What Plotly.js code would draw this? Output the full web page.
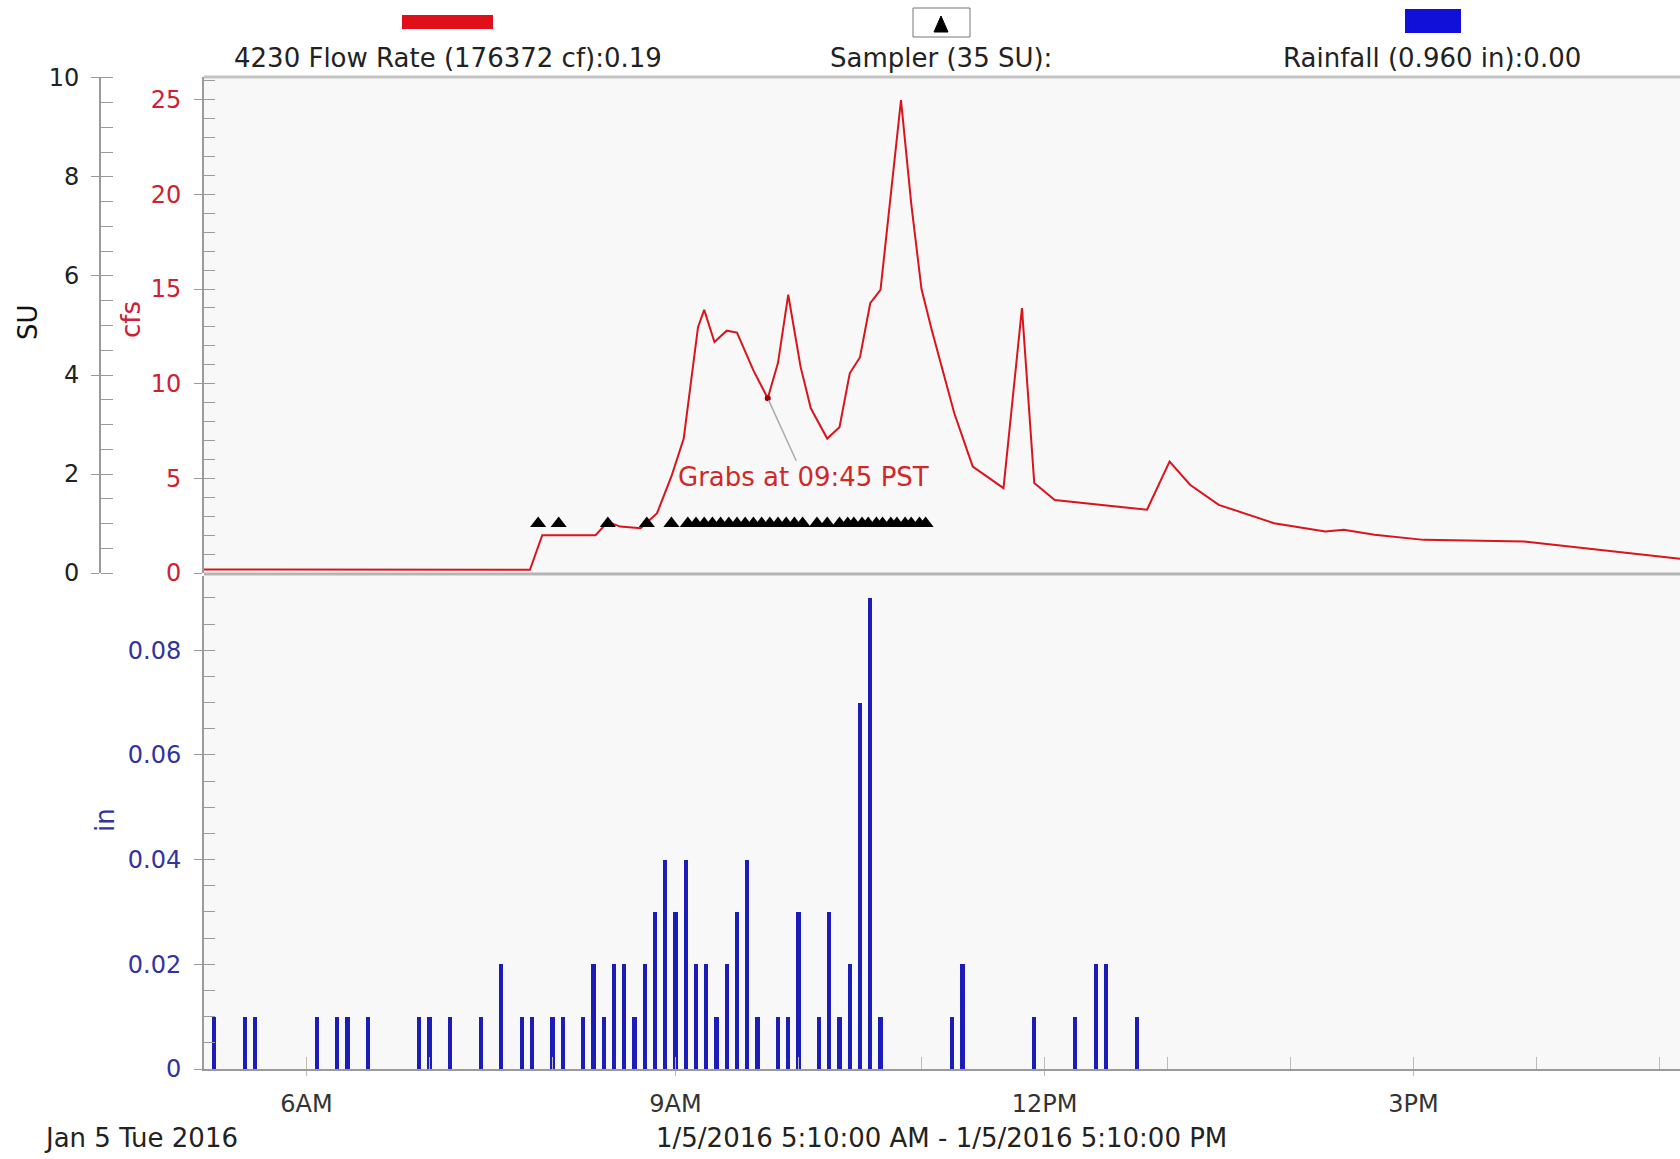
<!DOCTYPE html>
<html>
<head>
<meta charset="utf-8">
<script src="https://cdn.plot.ly/plotly-3.0.1.min.js"></script>
<style>
html,body{margin:0;padding:0;background:#ffffff;}
#chart{width:1680px;height:1159px;}
</style>
</head>
<body>
<div id="chart"></div>
<script>
// ---------------- DATA ----------------
const flowTimes = [
  '2016-01-05 05:10','2016-01-05 06:00','2016-01-05 07:00','2016-01-05 07:49','2016-01-05 07:55',
  '2016-01-05 08:00','2016-01-05 08:21','2016-01-05 08:27','2016-01-05 08:33','2016-01-05 08:43',
  '2016-01-05 08:51','2016-01-05 08:58','2016-01-05 09:04','2016-01-05 09:11','2016-01-05 09:14',
  '2016-01-05 09:19','2016-01-05 09:25','2016-01-05 09:30','2016-01-05 09:38','2016-01-05 09:45',
  '2016-01-05 09:50','2016-01-05 09:55','2016-01-05 10:01','2016-01-05 10:06','2016-01-05 10:14',
  '2016-01-05 10:20','2016-01-05 10:25','2016-01-05 10:30','2016-01-05 10:35','2016-01-05 10:40',
  '2016-01-05 10:50','2016-01-05 10:55','2016-01-05 11:00','2016-01-05 11:05','2016-01-05 11:16',
  '2016-01-05 11:25','2016-01-05 11:40','2016-01-05 11:49','2016-01-05 11:55','2016-01-05 12:05',
  '2016-01-05 12:27','2016-01-05 12:50','2016-01-05 13:01','2016-01-05 13:11','2016-01-05 13:25',
  '2016-01-05 13:52','2016-01-05 14:17','2016-01-05 14:26','2016-01-05 14:41','2016-01-05 15:05',
  '2016-01-05 15:54','2016-01-05 16:31','2016-01-05 17:10'
];
const flowCfs = [
  0.18,0.18,0.17,0.17,2.0,
  2.0,2.0,2.7,2.45,2.37,
  3.16,5.1,7.1,13.0,13.9,
  12.2,12.8,12.7,10.7,9.23,
  11.1,14.7,10.9,8.7,7.1,
  7.7,10.55,11.4,14.25,14.95,
  24.98,19.5,15.0,12.84,8.44,
  5.62,4.48,13.99,4.75,3.86,
  3.6,3.34,5.89,4.66,3.6,
  2.63,2.19,2.28,2.02,1.75,
  1.66,1.22,0.75
];

const samplerTimes = [
  '2016-01-05 07:53','2016-01-05 08:03','2016-01-05 08:27','2016-01-05 08:46','2016-01-05 08:58',
  '2016-01-05 09:06','2016-01-05 09:10','2016-01-05 09:14','2016-01-05 09:18','2016-01-05 09:22',
  '2016-01-05 09:26','2016-01-05 09:30','2016-01-05 09:34','2016-01-05 09:38','2016-01-05 09:42',
  '2016-01-05 09:46','2016-01-05 09:50','2016-01-05 09:54','2016-01-05 09:58','2016-01-05 10:02',
  '2016-01-05 10:09','2016-01-05 10:14',
  '2016-01-05 10:20','2016-01-05 10:24','2016-01-05 10:27','2016-01-05 10:31','2016-01-05 10:34',
  '2016-01-05 10:38','2016-01-05 10:41','2016-01-05 10:45','2016-01-05 10:48','2016-01-05 10:52',
  '2016-01-05 10:55','2016-01-05 10:59','2016-01-05 11:02'
];
const samplerSU = [
  1,1,1,1,1, 1,1,1,1,1, 1,1,1,1,1, 1,1,1,1,1, 1,1, 1,1,1,1,1, 1,1,1,1,1, 1,1,1
];

const rainTimes = [
  '2016-01-05 05:15','2016-01-05 05:30','2016-01-05 05:35','2016-01-05 06:05','2016-01-05 06:15',
  '2016-01-05 06:20','2016-01-05 06:30','2016-01-05 06:55','2016-01-05 07:00','2016-01-05 07:10',
  '2016-01-05 07:25','2016-01-05 07:35','2016-01-05 07:45','2016-01-05 07:50','2016-01-05 08:00',
  '2016-01-05 08:05','2016-01-05 08:15','2016-01-05 08:20','2016-01-05 08:25','2016-01-05 08:30',
  '2016-01-05 08:35','2016-01-05 08:40','2016-01-05 08:45','2016-01-05 08:50','2016-01-05 08:55',
  '2016-01-05 09:00','2016-01-05 09:05','2016-01-05 09:10','2016-01-05 09:15','2016-01-05 09:20',
  '2016-01-05 09:25','2016-01-05 09:30','2016-01-05 09:35','2016-01-05 09:40','2016-01-05 09:50',
  '2016-01-05 09:55','2016-01-05 10:00','2016-01-05 10:10','2016-01-05 10:15','2016-01-05 10:20',
  '2016-01-05 10:25','2016-01-05 10:30','2016-01-05 10:35','2016-01-05 10:40','2016-01-05 11:15',
  '2016-01-05 11:20','2016-01-05 11:55','2016-01-05 12:15','2016-01-05 12:25','2016-01-05 12:30',
  '2016-01-05 12:45'
];
const rainInches = [
  0.01,0.01,0.01,0.01,0.01,
  0.01,0.01,0.01,0.01,0.01,
  0.01,0.02,0.01,0.01,0.01,
  0.01,0.01,0.02,0.01,0.02,
  0.02,0.01,0.02,0.03,0.04,
  0.03,0.04,0.02,0.02,0.01,
  0.02,0.03,0.04,0.01,0.01,
  0.01,0.03,0.01,0.03,0.01,
  0.02,0.07,0.09,0.01,0.01,
  0.02,0.01,0.01,0.02,0.02,
  0.01
];

const grabTime = ['2016-01-05 09:45'];
const grabCfs = [9.23];

const xRange = ['2016-01-05 05:10','2016-01-05 17:10'];
const xTickVals = ['2016-01-05 06:00','2016-01-05 09:00','2016-01-05 12:00','2016-01-05 15:00'];
const xTickText = ['6AM','9AM','12PM','3PM'];

const legendLabels = ['4230 Flow Rate (176372 cf):0.19','Sampler (35 SU):','Rainfall (0.960 in):0.00'];
const axisTitles = {su:'SU', cfs:'cfs', rain:'in'};
const grabLabel = 'Grabs at 09:45 PST';
const dateLabel = 'Jan 5 Tue 2016';
const rangeLabel = '1/5/2016 5:10:00 AM - 1/5/2016 5:10:00 PM';

// ---------------- LAYOUT HELPERS ----------------
const W = 1680, H = 1159;
const px = X => X / W;
const py = Y => 1 - Y / H;
const FONT = 'DejaVu Sans, Liberation Sans, Arial, sans-serif';
const RED = '#d9141c';
const RED_TXT = '#cc2233';
const BLUE = '#1c1cb8';
const BLUE_TXT = '#3333a0';
const AXIS = '#9a9a9a';
const TXT = 26;
const TICK = 24;

const traces = [
  {
    type: 'bar', x: rainTimes, y: rainInches, xaxis: 'x', yaxis: 'y3',
    width: 120000, marker: {color: BLUE, line: {width: 0}}, hoverinfo: 'skip', showlegend: false
  },
  {
    type: 'scatter', mode: 'lines', x: flowTimes, y: flowCfs, xaxis: 'x', yaxis: 'y',
    line: {color: RED, width: 2}, hoverinfo: 'skip', showlegend: false
  },
  {
    type: 'scatter', mode: 'markers', x: grabTime, y: grabCfs, xaxis: 'x', yaxis: 'y',
    marker: {color: '#a00000', size: 6}, hoverinfo: 'skip', showlegend: false
  },
  {
    type: 'scatter', mode: 'markers', x: samplerTimes, y: samplerSU, xaxis: 'x', yaxis: 'y2',
    marker: {symbol: 'triangle-up', size: 14, color: '#000000'}, hoverinfo: 'skip', showlegend: false
  }
];

const topDom = [py(573), py(77)];
const botDom = [py(1069), py(576)];

const layout = {
  width: W, height: H,
  margin: {l: 0, r: 0, t: 0, b: 0, pad: 0},
  paper_bgcolor: '#ffffff',
  plot_bgcolor: '#f8f8f8',
  font: {family: FONT, size: TXT, color: '#222'},
  showlegend: false,
  bargap: 0,
  xaxis: {
    type: 'date', domain: [px(204), 1], range: xRange, anchor: 'y3',
    showgrid: false, zeroline: false,
    showline: true, linecolor: AXIS, linewidth: 2,
    tickmode: 'array', tickvals: xTickVals, ticktext: xTickText,
    ticks: 'outside', ticklen: 5, tickcolor: '#bbbbbb',
    ticklabelstandoff: 7,
    tickfont: {family: FONT, size: TICK, color: '#333'},
    minor: {tickmode: 'linear', tick0: '2016-01-05 00:00', dtick: 3600000, ticks: 'inside', ticklen: 12, tickcolor: '#bbbbbb', showgrid: false}
  },
  yaxis: {
    domain: topDom, range: [0, 26.2], anchor: 'x',
    showgrid: false, zeroline: false,
    showline: true, linecolor: AXIS, linewidth: 2,
    tickmode: 'linear', tick0: 0, dtick: 5,
    ticks: 'outside', ticklen: 8, tickcolor: AXIS, ticklabelstandoff: 8,
    tickfont: {family: FONT, size: TICK, color: RED_TXT},
    minor: {dtick: 1, ticks: 'inside', ticklen: 11, tickcolor: AXIS, showgrid: false}
  },
  yaxis2: {
    overlaying: 'y', anchor: 'free', position: px(100), side: 'left',
    range: [0, 10.02], showgrid: false, zeroline: false,
    showline: true, linecolor: AXIS, linewidth: 2,
    tickmode: 'linear', tick0: 0, dtick: 2,
    ticks: 'outside', ticklen: 8, tickcolor: AXIS, ticklabelstandoff: 7,
    tickfont: {family: FONT, size: TICK, color: '#222'},
    minor: {dtick: 0.5, ticks: 'inside', ticklen: 12, tickcolor: AXIS, showgrid: false}
  },
  yaxis3: {
    domain: botDom, range: [0, 0.0942], anchor: 'x',
    showgrid: false, zeroline: false,
    showline: true, linecolor: AXIS, linewidth: 2,
    tickmode: 'linear', tick0: 0, dtick: 0.02,
    ticks: 'outside', ticklen: 8, tickcolor: AXIS, ticklabelstandoff: 8,
    tickfont: {family: FONT, size: TICK, color: BLUE_TXT},
    minor: {dtick: 0.005, ticks: 'inside', ticklen: 11, tickcolor: AXIS, showgrid: false}
  },
  shapes: [
    {type: 'line', xref: 'paper', yref: 'paper', x0: px(204), x1: 1, y0: py(77), y1: py(77), line: {color: '#c4c4c4', width: 3}},
    {type: 'line', xref: 'paper', yref: 'paper', x0: px(204), x1: 1, y0: py(574), y1: py(574), line: {color: '#b4b4b4', width: 3}},
    {type: 'rect', xref: 'paper', yref: 'paper', x0: px(402), x1: px(493), y0: py(29), y1: py(15), fillcolor: '#e0101a', line: {width: 0}},
    {type: 'rect', xref: 'paper', yref: 'paper', x0: px(913), x1: px(970), y0: py(37), y1: py(8), fillcolor: '#ffffff', line: {color: '#777', width: 1}},
    {type: 'path', xref: 'paper', yref: 'paper',
      path: 'M ' + px(934) + ' ' + py(32) + ' L ' + px(948) + ' ' + py(32) + ' L ' + px(941) + ' ' + py(16) + ' Z',
      fillcolor: '#000', line: {color: '#000', width: 1}},
    {type: 'rect', xref: 'paper', yref: 'paper', x0: px(1405), x1: px(1461), y0: py(33), y1: py(9), fillcolor: '#1010d8', line: {width: 0}}
  ],
  annotations: [
    {xref: 'paper', yref: 'paper', x: px(448), y: py(58), text: legendLabels[0], showarrow: false, xanchor: 'center', yanchor: 'middle', font: {family: FONT, size: TXT, color: '#222'}},
    {xref: 'paper', yref: 'paper', x: px(941), y: py(58), text: legendLabels[1], showarrow: false, xanchor: 'center', yanchor: 'middle', font: {family: FONT, size: TXT, color: '#222'}},
    {xref: 'paper', yref: 'paper', x: px(1432), y: py(58), text: legendLabels[2], showarrow: false, xanchor: 'center', yanchor: 'middle', font: {family: FONT, size: TXT, color: '#222'}},
    {xref: 'paper', yref: 'paper', x: px(28), y: py(322), text: axisTitles.su, textangle: -90, showarrow: false, xanchor: 'center', yanchor: 'middle', font: {family: FONT, size: TXT, color: '#111'}},
    {xref: 'paper', yref: 'paper', x: px(131), y: py(320), text: axisTitles.cfs, textangle: -90, showarrow: false, xanchor: 'center', yanchor: 'middle', font: {family: FONT, size: TXT, color: RED_TXT}},
    {xref: 'paper', yref: 'paper', x: px(105), y: py(820), text: axisTitles.rain, textangle: -90, showarrow: false, xanchor: 'center', yanchor: 'middle', font: {family: FONT, size: TXT, color: BLUE_TXT}},
    {xref: 'paper', yref: 'paper', x: px(42), y: py(1138), text: dateLabel, showarrow: false, xanchor: 'left', yanchor: 'middle', font: {family: FONT, size: TXT, color: '#222'}},
    {xref: 'paper', yref: 'paper', x: px(941), y: py(1138), text: rangeLabel, showarrow: false, xanchor: 'center', yanchor: 'middle', font: {family: FONT, size: TXT, color: '#222'}},
    {xref: 'x', yref: 'y', x: grabTime[0], y: grabCfs[0], text: grabLabel, showarrow: true,
      arrowhead: 0, arrowwidth: 1.5, arrowcolor: '#aaaaaa', ax: 36, ay: 79, standoff: 2,
      font: {family: FONT, size: TXT, color: '#d02828'}}
  ]
};

Plotly.newPlot('chart', traces, layout, {staticPlot: true, displayModeBar: false});
</script>
</body>
</html>
